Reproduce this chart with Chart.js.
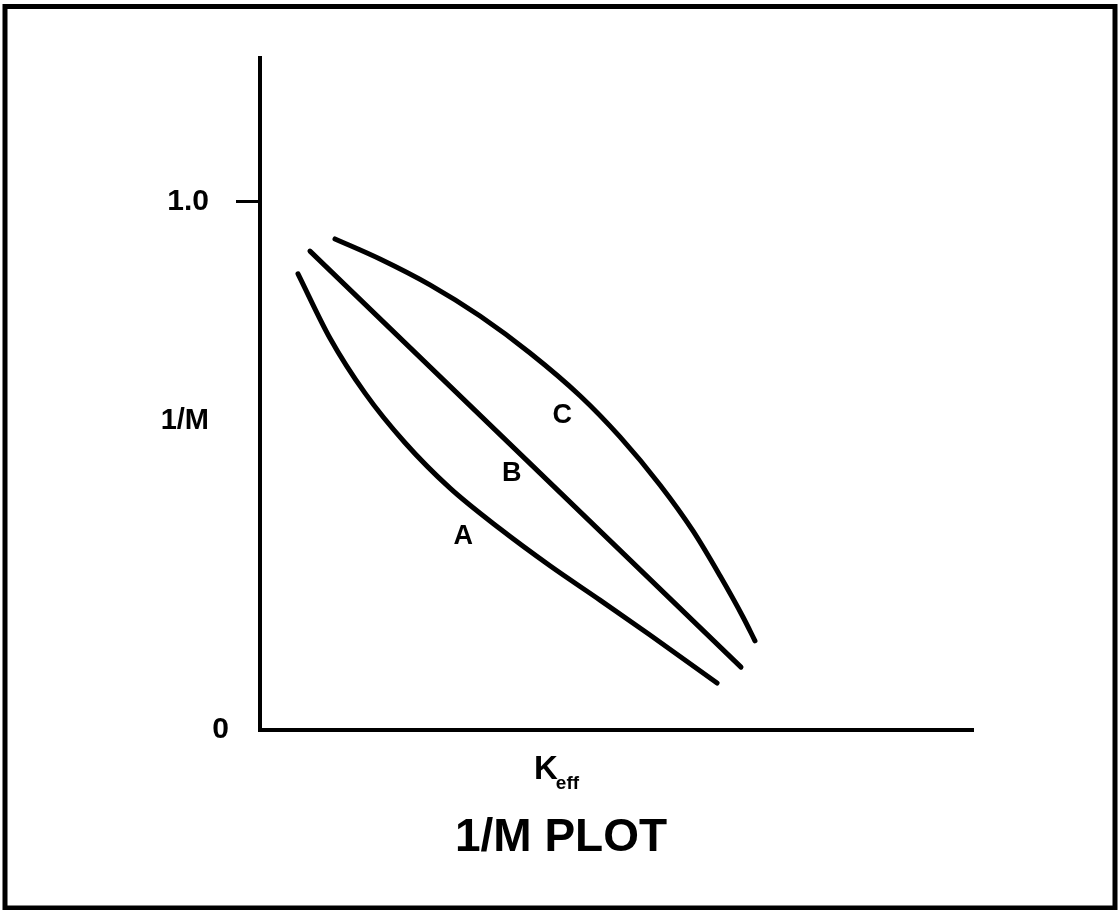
<!DOCTYPE html>
<html><head><meta charset="utf-8">
<script src="https://cdn.jsdelivr.net/npm/chart.js@4/dist/chart.umd.min.js"></script>
<style>html,body{margin:0;padding:0;background:#fff;overflow:hidden}#wrap{position:relative;width:1120px;height:910px}</style>
</head><body><div id="wrap"><canvas id="c" width="1120" height="910"></canvas></div>
<script>
// ---- data (x: arbitrary K_eff units 0..10, y: 1/M) ----
const curveAx = [0.533, 0.982, 1.473, 2.034, 2.665, 3.366, 4.067, 4.769, 5.470, 6.410];
const curveAy = [0.864, 0.742, 0.638, 0.544, 0.458, 0.381, 0.311, 0.246, 0.180, 0.089];
const curveBx = [0.701, 3.724, 6.746];
const curveBy = [0.907, 0.513, 0.119];
const curveCx = [1.052, 1.683, 2.384, 3.086, 3.787, 4.488, 5.049, 5.610, 6.073, 6.452, 6.774, 6.942];
const curveCy = [0.930, 0.892, 0.843, 0.784, 0.714, 0.633, 0.555, 0.464, 0.377, 0.292, 0.214, 0.169];
const curveNames = ['A', 'B', 'C'];
const curveLabelX = [2.85, 3.53, 4.24];
const curveLabelY = [0.367, 0.485, 0.595];
const yTickValues = [0, 1.0];
const yTickLabels = ['0', '1.0'];
const yTitle = '1/M';
const xTitleMain = 'K';
const xTitleSub = 'eff';
const chartTitle = '1/M PLOT';

const FONT = '"Liberation Sans", Arial, Helvetica, sans-serif';
const toPts = (xs, ys) => xs.map((x, i) => ({x: x, y: ys[i]}));
const lineStyle = {borderColor: '#000', borderWidth: 5, pointRadius: 0, cubicInterpolationMode: 'monotone', fill: false, borderCapStyle: 'round'};

const decor = {
  id: 'decor',
  afterDraw(chart) {
    const ctx = chart.ctx;
    const xs = chart.scales.x, ys = chart.scales.y;
    ctx.save();
    // outer frame
    ctx.strokeStyle = '#000';
    ctx.lineWidth = 5;
    ctx.strokeRect(5, 6.5, 1110, 901.5);
    ctx.fillStyle = '#000';
    // y tick labels
    ctx.font = 'bold 30px ' + FONT;
    ctx.textAlign = 'right';
    ctx.textBaseline = 'middle';
    yTickValues.forEach((v, i) => {
      const right = v === 0 ? 229 : 209;
      ctx.fillText(yTickLabels[i], right, ys.getPixelForValue(v));
    });
    // y title
    ctx.font = 'bold 29px ' + FONT;
    ctx.fillText(yTitle, 209, 421);
    // x title with subscript
    ctx.textAlign = 'left';
    ctx.textBaseline = 'alphabetic';
    ctx.font = 'bold 33px ' + FONT;
    ctx.fillText(xTitleMain, 534, 779);
    const kw = ctx.measureText(xTitleMain).width;
    ctx.font = 'bold 19px ' + FONT;
    ctx.fillText(xTitleSub, 534 + kw - 2, 789);
    // chart title
    ctx.font = 'bold 46px ' + FONT;
    ctx.textAlign = 'center';
    ctx.fillText(chartTitle, 561, 851);
    // curve labels
    ctx.font = 'bold 27px ' + FONT;
    ctx.textBaseline = 'middle';
    curveNames.forEach((n, i) => {
      ctx.fillText(n, xs.getPixelForValue(curveLabelX[i]), ys.getPixelForValue(curveLabelY[i]));
    });
    ctx.restore();
  }
};

new Chart(document.getElementById('c'), {
  type: 'line',
  data: {
    datasets: [
      Object.assign({label: curveNames[0], data: toPts(curveAx, curveAy)}, lineStyle),
      Object.assign({label: curveNames[1], data: toPts(curveBx, curveBy)}, lineStyle, {cubicInterpolationMode: 'default', tension: 0}),
      Object.assign({label: curveNames[2], data: toPts(curveCx, curveCy)}, lineStyle)
    ]
  },
  options: {
    responsive: false,
    animation: false,
    layout: {padding: {left: 0, right: 147, top: 58, bottom: 0}},
    plugins: {legend: {display: false}, tooltip: {enabled: false}, title: {display: false}},
    scales: {
      x: {
        type: 'linear', min: 0, max: 10,
        grid: {display: false},
        border: {display: true, color: '#000', width: 4},
        ticks: {display: false},
        afterFit(s) { s.height = 180; }
      },
      y: {
        type: 'linear', min: 0, max: 1.2727,
        afterBuildTicks(s) { s.ticks = yTickValues.map(v => ({value: v})); },
        ticks: {
          callback: (v) => yTickLabels[yTickValues.indexOf(v)],
          color: 'rgba(0,0,0,0)',
          padding: 26,
          font: {family: FONT, size: 28, weight: 'bold'}
        },
        grid: {
          drawOnChartArea: false, drawTicks: true, tickLength: 24, tickWidth: 3,
          color: (c) => (c.tick && c.tick.value === 0) ? 'rgba(0,0,0,0)' : '#000'
        },
        border: {display: true, color: '#000', width: 4},
        afterFit(s) { s.width = 260; }
      }
    }
  },
  plugins: [decor]
});
</script>
</body></html>
